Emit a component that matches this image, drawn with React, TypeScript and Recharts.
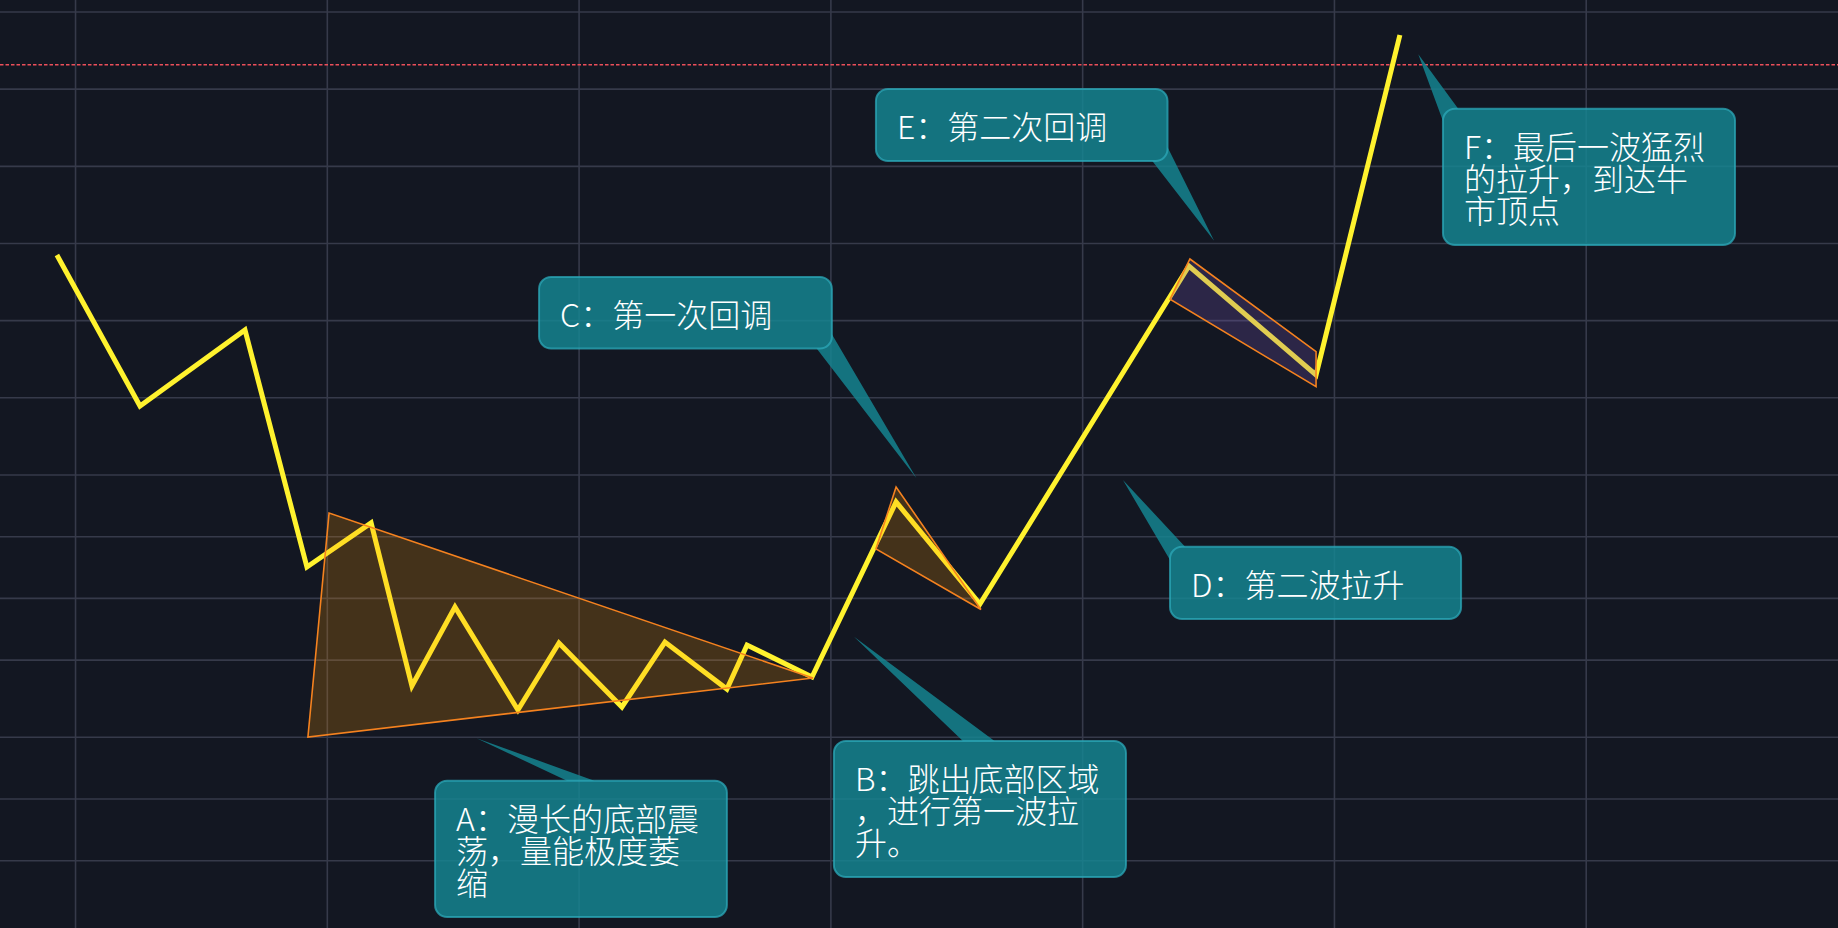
import React from "react";
import {
  ComposedChart,
  Line,
  XAxis,
  YAxis,
  CartesianGrid,
  ReferenceLine,
  ReferenceArea,
} from "recharts";

const WIDTH = 1838;
const HEIGHT = 928;

// ---- main price path (time index, price) ----
const waveX = [-0.74, 2.56, 6.73, 9.19, 11.74, 13.36, 15.07, 17.57, 19.2, 21.7, 23.41, 25.87, 26.67, 29.25, 32.59, 35.92, 44.22, 49.27, 52.6];
const waveY = [86.51, 66.94, 76.79, 46.07, 51.78, 30.65, 40.89, 27.54, 36.22, 27.93, 36.35, 30.26, 35.96, 31.82, 54.5, 41.28, 85.08, 70.96, 115.02];

// ---- grid ticks ----
const xTicks = [0, 10, 20, 30, 40, 50, 60];
const yTicks = [0, 8, 16, 24, 34, 42, 50, 58, 68, 78, 88, 98, 108, 118];
const xDomain: [number, number] = [-3, 70];
const yDomain: [number, number] = [-0.713, 119.556];

// ---- top level (dashed) ----
const topLevel = 111.17;

// ---- highlighted zones ----
const zoneAX = [10.07, 9.23, 29.29];
const zoneAY = [53.07, 24.04, 31.69];
const zoneCX = [32.59, 31.79, 35.96];
const zoneCY = [56.44, 48.41, 40.57];
const zoneEX = [44.26, 49.27, 49.27, 43.47];
const zoneEY = [85.99, 73.98, 69.44, 80.77];

// ---- callouts ----
const calloutLines = [
  ["A：漫长的底部震", "荡，量能极度萎", "缩"],
  ["B：跳出底部区域", "，进行第一波拉", "升。"],
  ["C：第一次回调"],
  ["D：第二波拉升"],
  ["E：第二次回调"],
  ["F：最后一波猛烈", "的拉升，到达牛", "市顶点"],
];
const calloutLeft = [14.28, 30.12, 18.41, 43.47, 31.79, 54.31];
const calloutRight = [25.87, 41.72, 30.04, 55.03, 43.37, 65.91];
const calloutTop = [18.38, 23.52, 83.66, 48.7, 108.02, 105.47];
const calloutBottom = [0.71, 5.9, 74.39, 39.33, 98.69, 87.8];
const calloutTipX = [15.93, 30.92, 33.4, 41.6, 45.22, 53.33];
const calloutTipY = [23.87, 37.04, 57.57, 57.35, 88.36, 112.52];

// tail attachment style (layout only)
const tailKind = ["top", "top", "br", "tl", "br", "tl"];
const tailTopSpan: Record<number, [number, number]> = { 0: [134, 162], 1: [130, 162] };

const waveData = waveX.map((x, i) => ({ x, y: waveY[i] }));

const BG = "#131722";
const GRID = "#363a4a";
const YELLOW = "#fff22e";
const ORANGE = "#f5821f";
const FONT = "'Noto Sans CJK SC', 'Noto Sans', sans-serif";

const polygonShape =
  (xs: number[], ys: number[], fill: string) =>
  (props: any) => {
    const { x, y, width, height } = props;
    const x1 = Math.min(...xs);
    const x2 = Math.max(...xs);
    const y1 = Math.min(...ys);
    const y2 = Math.max(...ys);
    const pts = xs
      .map((vx, i) => {
        const px = x + ((vx - x1) / (x2 - x1)) * width;
        const py = y + ((y2 - ys[i]) / (y2 - y1)) * height;
        return `${px},${py}`;
      })
      .join(" ");
    return (
      <polygon
        points={pts}
        fill={fill}
        stroke={ORANGE}
        strokeWidth={1.6}
        strokeLinejoin="miter"
      />
    );
  };

const calloutShape = (i: number) => (props: any) => {
  const { x, y, width: w, height: h } = props;
  const X1 = calloutLeft[i];
  const X2 = calloutRight[i];
  const Yt = calloutTop[i];
  const Yb = calloutBottom[i];
  const tx = x + ((calloutTipX[i] - X1) / (X2 - X1)) * w;
  const ty = y + ((Yt - calloutTipY[i]) / (Yt - Yb)) * h;
  let base: [number, number][];
  const kind = tailKind[i];
  if (kind === "top") {
    const [a, b] = tailTopSpan[i];
    base = [
      [x + a, y + 1],
      [x + b, y + 1],
    ];
  } else if (kind === "br") {
    base = [
      [x + w - 16, y + h - 1],
      [x + w - 1, y + h - 16],
    ];
  } else {
    base = [
      [x + 16, y + 1],
      [x + 1, y + 15],
    ];
  }
  let tri: [number, number][] = [base[0], [tx, ty], base[1]];
  let area = 0;
  for (let k = 0; k < 3; k++) {
    const p = tri[k];
    const q = tri[(k + 1) % 3];
    area += p[0] * q[1] - q[0] * p[1];
  }
  if (area < 0) tri = tri.reverse();
  const r = 12;
  const rectPath = `M${x + r},${y} H${x + w - r} A${r},${r} 0 0 1 ${x + w},${y + r} V${y + h - r} A${r},${r} 0 0 1 ${x + w - r},${y + h} H${x + r} A${r},${r} 0 0 1 ${x},${y + h - r} V${y + r} A${r},${r} 0 0 1 ${x + r},${y} Z`;
  const triPath = `M${tri[0][0]},${tri[0][1]} L${tri[1][0]},${tri[1][1]} L${tri[2][0]},${tri[2][1]} Z`;
  const lines = calloutLines[i];
  const n = lines.length;
  const firstY = y + h / 2 - ((n - 1) * 32) / 2;
  return (
    <g>
      <path d={rectPath + " " + triPath} fill="rgba(21,135,148,0.82)" fillRule="nonzero" />
      <path d={rectPath} fill="none" stroke="rgba(44,168,184,0.75)" strokeWidth={2} />
      {lines.map((t, k) => (
        <text
          key={k}
          x={x + 21}
          y={firstY + k * 32}
          fill="#ffffff"
          fontSize={32}
          fontWeight={300}
          fontFamily={FONT}
          dominantBaseline="central"
        >
          {t}
        </text>
      ))}
    </g>
  );
};

export default function App() {
  return (
    <div
      style={{
        position: "absolute",
        left: 0,
        top: 0,
        width: WIDTH,
        height: HEIGHT,
        background: BG,
        overflow: "hidden",
      }}
    >
      <ComposedChart
        width={WIDTH}
        height={HEIGHT}
        data={waveData}
        margin={{ top: 0, right: 0, bottom: 0, left: 0 }}
      >
        <XAxis
          dataKey="x"
          type="number"
          domain={xDomain}
          allowDataOverflow
          ticks={xTicks}
          hide
        />
        <YAxis
          type="number"
          domain={yDomain}
          allowDataOverflow
          ticks={yTicks}
          hide
        />
        <CartesianGrid
          stroke={GRID}
          strokeWidth={1.6}
          verticalValues={xTicks}
          horizontalValues={yTicks}
        />
        <ReferenceLine
          y={topLevel}
          stroke="#ec4f5a"
          strokeWidth={1.6}
          strokeDasharray="3.5 2"
        />
        <Line
          dataKey="y"
          type="linear"
          stroke={YELLOW}
          strokeWidth={5}
          dot={false}
          activeDot={false}
          isAnimationActive={false}
        />
        <ReferenceArea
          x1={Math.min(...zoneAX)}
          x2={Math.max(...zoneAX)}
          y1={Math.min(...zoneAY)}
          y2={Math.max(...zoneAY)}
          shape={polygonShape(zoneAX, zoneAY, "rgba(255,150,0,0.21)")}
          zIndex={700}
        />
        <ReferenceArea
          x1={Math.min(...zoneCX)}
          x2={Math.max(...zoneCX)}
          y1={Math.min(...zoneCY)}
          y2={Math.max(...zoneCY)}
          shape={polygonShape(zoneCX, zoneCY, "rgba(255,150,0,0.21)")}
          zIndex={700}
        />
        <ReferenceArea
          x1={Math.min(...zoneEX)}
          x2={Math.max(...zoneEX)}
          y1={Math.min(...zoneEY)}
          y2={Math.max(...zoneEY)}
          shape={polygonShape(zoneEX, zoneEY, "rgba(126,87,194,0.24)")}
          zIndex={700}
        />
        {calloutLines.map((_, i) => (
          <ReferenceArea
            key={i}
            x1={calloutLeft[i]}
            x2={calloutRight[i]}
            y1={calloutBottom[i]}
            y2={calloutTop[i]}
            shape={calloutShape(i)}
            zIndex={800}
          />
        ))}
      </ComposedChart>
    </div>
  );
}
